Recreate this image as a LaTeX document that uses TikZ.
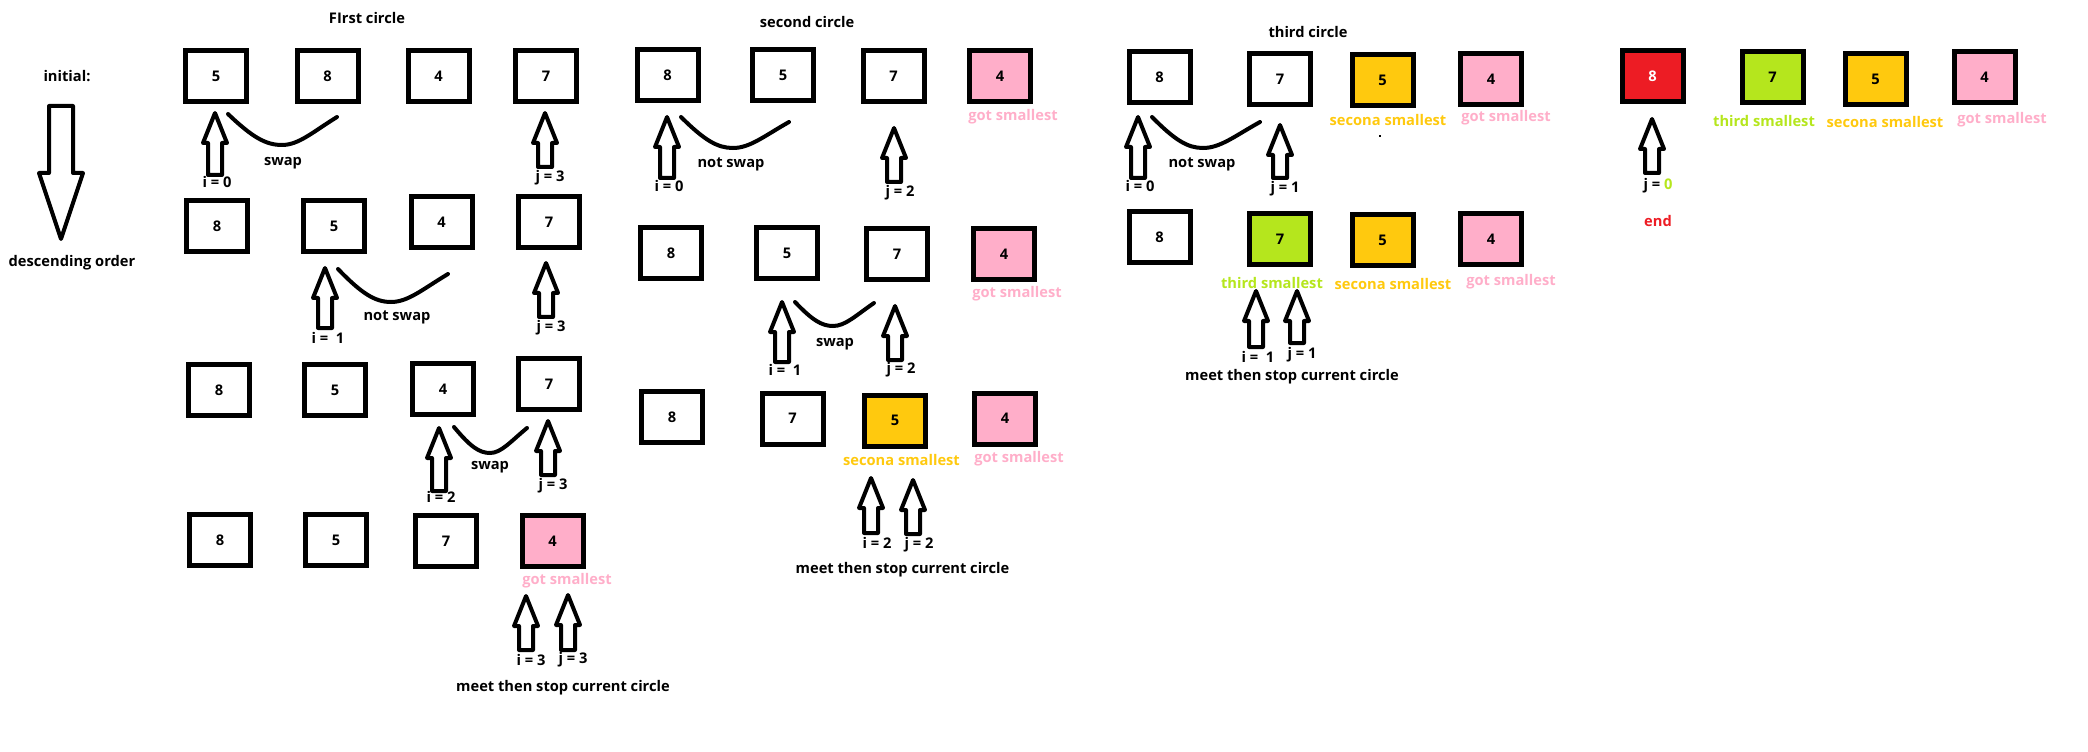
\documentclass[tikz,border=0pt]{standalone}
\usepackage{fontspec}
\setmainfont{Open Sans}
\definecolor{pinkc}{HTML}{FFAEC9}
\definecolor{yelc}{HTML}{FFC90E}
\definecolor{grnc}{HTML}{B5E61D}
\definecolor{redc}{HTML}{ED1C24}
\newcommand\UpArr[3]{\draw[arrowline] (#1,#2) -- ({#1+12},{#2+30}) -- ({#1+7},{#2+30}) -- ({#1+7},#3) -- ({#1-7},#3) -- ({#1-7},{#2+30}) -- ({#1-12},{#2+30}) -- cycle;}
\newcommand\Swoosh[6]{\draw[curveline] (#1,#2) .. controls ({#1+0.45*(#3-#1)},{#2+0.75*(#4-#2)}) and ({#3-0.3*(#3-#1)},#4) .. (#3,#4) .. controls ({#3+0.3*(#5-#3)},#4) and ({#5-0.45*(#5-#3)},{#6+0.55*(#4-#6)}) .. (#5,#6);}
\tikzset{
  box/.style={draw=black, line width=3.75pt, minimum width=45.75pt, minimum height=38.25pt, inner sep=0pt, fill=white, font=\bfseries\fontsize{11}{13}\selectfont},
  pbox/.style={box, fill=pinkc},
  ybox/.style={box, fill=yelc},
  gbox/.style={box, fill=grnc},
  rbox/.style={box, fill=redc, text=white},
  lbl/.style={inner sep=0pt, font=\bfseries\fontsize{11}{13}\selectfont},
  plbl/.style={lbl, text=pinkc},
  ylbl/.style={lbl, text=yelc},
  glbl/.style={lbl, text=grnc},
  arrowline/.style={draw=black, line width=3pt, line join=round, fill=white},
  curveline/.style={draw=black, line width=3pt, line cap=round}
}
\begin{document}
\begin{tikzpicture}[x=0.75pt, y=-0.75pt]
\useasboundingbox (0,0) rectangle (2088,752);
% initial
\node[lbl] (init) at (67,76) {initial:};
\draw[arrowline] (49,106) -- (73,106) -- (73,173) -- (83,173) -- (61,239) -- (39,173) -- (49,173) -- cycle;
\node[lbl] (desc) at (72,263) {descending order};
% first circle
\node[lbl] (t1) at (367,18) {FIrst circle};
\node[box] (a11) at (216,76) {5};
\node[box] (a12) at (327.5,76) {8};
\node[box] (a13) at (438.5,76) {4};
\node[box] (a14) at (546,76) {7};
\UpArr{215}{113}{175}
\UpArr{545}{113}{167}
\Swoosh{228}{114}{282}{145}{337}{117}
\node[lbl] (a1i) at (217,182) {i = 0};
\node[lbl] (a1s) at (283,163) {swap};
\node[lbl] (a1j) at (550,178) {j = 3};

\node[box] (a21) at (217,226.5) {8};
\node[box] (a22) at (334,226.5) {5};
\node[box] (a23) at (441.5,222.5) {4};
\node[box] (a24) at (549,222.5) {7};
\UpArr{325}{268}{328}
\UpArr{546}{263}{317}
\Swoosh{338}{269}{391}{302}{448}{274}
\node[lbl] (a2i) at (328,338) {i = \ 1};
\node[lbl] (a2s) at (397,317) {not swap};
\node[lbl] (a2j) at (551,328) {j = 3};

\node[box] (a31) at (219,390) {8};
\node[box] (a32) at (335,390) {5};
\node[box] (a33) at (443,389) {4};
\node[box] (a34) at (549,384) {7};
\UpArr{439}{428}{491}
\UpArr{548}{421}{475}
\Swoosh{454}{427}{490}{453}{527}{428}
\node[lbl] (a3i) at (441,497) {i = 2};
\node[lbl] (a3s) at (490,467) {swap};
\node[lbl] (a3j) at (553,486) {j = 3};

\node[box] (a41) at (220,540) {8};
\node[box] (a42) at (336,540) {5};
\node[box] (a43) at (446,541) {7};
\node[pbox] (a44) at (552.5,541) {4};
\node[plbl] (a4g) at (567,581) {got smallest};
\UpArr{526}{596}{650}
\UpArr{568}{595}{650}
\node[lbl] (a4i) at (531,660) {i = 3};
\node[lbl] (a4j) at (573,660) {j = 3};
\node[lbl] (a4m) at (563,688) {meet then stop current circle};
% second circle
\node[lbl] (t2) at (807,22) {second circle};
\node[box] (b11) at (667.5,75.5) {8};
\node[box] (b12) at (783,75.5) {5};
\node[box] (b13) at (893.5,76) {7};
\node[pbox] (b14) at (1000,76) {4};
\node[plbl] (b1g) at (1013,117) {got smallest};
\UpArr{667}{117}{178}
\UpArr{894}{128}{182}
\Swoosh{681}{117}{733}{148}{789}{122}
\node[lbl] (b1i) at (669,186) {i = 0};
\node[lbl] (b1s) at (731,164) {not swap};
\node[lbl] (b1j) at (900,193) {j = 2};

\node[box] (b21) at (671,253.5) {8};
\node[box] (b22) at (787,253.5) {5};
\node[box] (b23) at (897,254.5) {7};
\node[pbox] (b24) at (1004,254.5) {4};
\node[plbl] (b2g) at (1017,294) {got smallest};
\UpArr{782}{302}{362}
\UpArr{895}{306}{360}
\Swoosh{795}{302}{833}{326}{874}{303}
\node[lbl] (b2i) at (785,370) {i = \ 1};
\node[lbl] (b2s) at (835,344) {swap};
\node[lbl] (b2j) at (901,370) {j = 2};

\node[box] (b31) at (672,417) {8};
\node[box] (b32) at (792.5,418.5) {7};
\node[ybox] (b33) at (895,420.5) {5};
\node[pbox] (b34) at (1005,418.5) {4};
\node[ylbl] (b3y) at (901.5,460) {secona smallest};
\node[plbl] (b3g) at (1019,459) {got smallest};
\UpArr{871}{478}{533}
\UpArr{913}{480}{534}
\node[lbl] (b3i) at (877,543) {i = 2};
\node[lbl] (b3j) at (919,545) {j = 2};
\node[lbl] (b3m) at (902.5,570) {meet then stop current circle};
% third circle
\node[lbl] (t3) at (1308,32) {third circle};
\node[box] (c11) at (1159.5,77.5) {8};
\node[box] (c12) at (1280,79) {7};
\node[ybox] (c13) at (1382.5,80) {5};
\node[pbox] (c14) at (1491,79) {4};
\node[ylbl] (c1y) at (1388,120) {secona smallest};
\node[plbl] (c1g) at (1506,118) {got smallest};
\fill (1379,135) rectangle (1381,137);
\UpArr{1138}{117}{178}
\UpArr{1280}{125}{178}
\Swoosh{1152}{117}{1203}{148}{1260}{122}
\node[lbl] (c1i) at (1140,186) {i = 0};
\node[lbl] (c1s) at (1202,164) {not swap};
\node[lbl] (c1j) at (1285,189) {j = 1};

\node[box] (c21) at (1159.5,237.5) {8};
\node[gbox] (c22) at (1280,239) {7};
\node[ybox] (c23) at (1382.5,240.5) {5};
\node[pbox] (c24) at (1491,239) {4};
\node[glbl] (c2t) at (1272,283) {third smallest};
\node[ylbl] (c2y) at (1393,284) {secona smallest};
\node[plbl] (c2g) at (1511,282) {got smallest};
\UpArr{1256}{291}{347}
\UpArr{1297}{291}{343}
\node[lbl] (c2i) at (1258,357) {i = \ 1};
\node[lbl] (c2j) at (1302,355) {j = 1};
\node[lbl] (c2m) at (1292,377) {meet then stop current circle};
% end
\node[rbox] (d1) at (1652.5,76.5) {8};
\node[gbox] (d2) at (1772.5,77.5) {7};
\node[ybox] (d3) at (1875.5,79.5) {5};
\node[pbox] (d4) at (1984.5,77.5) {4};
\node[glbl] (d2t) at (1764,121) {third smallest};
\node[ylbl] (d3y) at (1885,122) {secona smallest};
\node[plbl] (d4g) at (2002,120) {got smallest};
\UpArr{1652}{119}{173}
\node[lbl] (dj) at (1658,186) {j = \textcolor{grnc}{0}};
\node[lbl, text=redc] (dend) at (1658,221) {end};
\end{tikzpicture}
\end{document}
